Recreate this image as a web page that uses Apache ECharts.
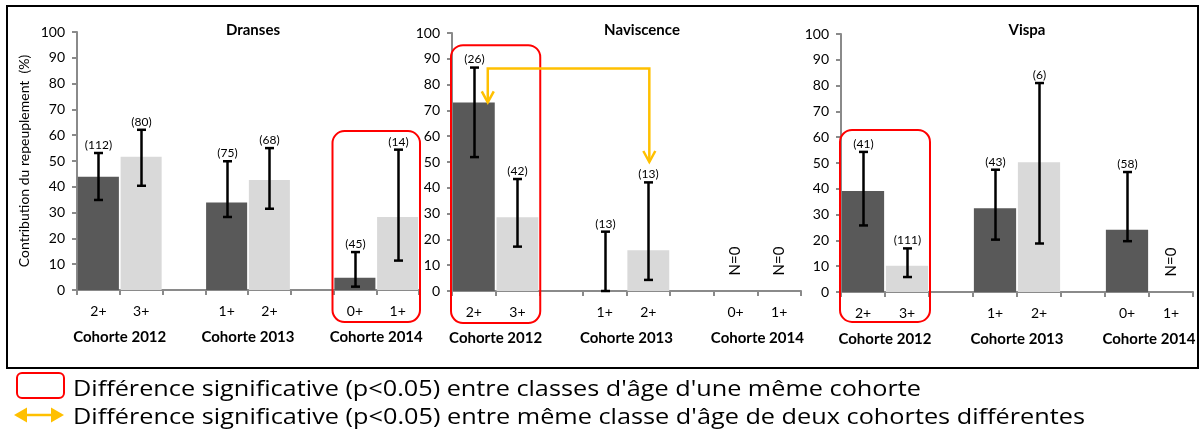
<!DOCTYPE html>
<html><head><meta charset="utf-8">
<script src="https://cdn.jsdelivr.net/npm/echarts@6/dist/echarts.min.js"></script>
<style>html,body{margin:0;padding:0;background:#fff}#c{width:1200px;height:432px}</style>
</head><body><div id="c"></div>
<script>
// ---------- data ----------
const panelTitles = ['Dranses', 'Naviscence', 'Vispa'];
const ageClasses = ['2+', '3+', '', '1+', '2+', '', '0+', '1+'];
const cohortLabels = ['Cohorte 2012', 'Cohorte 2013', 'Cohorte 2014'];
const cohortAt = [1, 4, 7];            // category boundary under which each cohort name sits
const yAxisName = 'Contribution du repeuplement  (%)';

const dransesValues = [43.9, 51.6, null, 33.9, 42.6, null, 4.7, 28.3];
const dransesLow    = [34.9, 40.4, null, 28.3, 31.5, null, 1.3, 11.4];
const dransesHigh   = [53.1, 62.1, null, 49.9, 55.0, null, 14.7, 54.4];
const dransesN      = [112, 80, null, 75, 68, null, 45, 14];

const naviscenceValues = [73.1, 28.6, null, 0, 15.8, null, null, null];
const naviscenceLow    = [51.9, 17.2, null, 0, 4.3, null, null, null];
const naviscenceHigh   = [86.6, 43.4, null, 23.0, 42.1, null, null, null];
const naviscenceN      = [26, 42, null, 13, 13, null, 0, 0];

const vispaValues = [39.1, 10.2, null, 32.5, 50.3, null, 24.1, null];
const vispaLow    = [25.8, 5.8, null, 20.3, 18.8, null, 19.7, null];
const vispaHigh   = [54.3, 16.9, null, 47.4, 81.0, null, 46.5, null];
const vispaN      = [41, 111, null, 43, 6, null, 58, 0];

// significant difference within a cohort: [first category, last category] per panel
const withinCohortDiff = [[[6, 7]], [[0, 1]], [[0, 1]]];
// significant difference between cohorts (Naviscence): [from category, to category]
const betweenCohortDiff = [[0, 4]];

const legendTexts = [
  "Différence significative (p<0.05) entre classes d'âge d'une même cohorte",
  "Différence significative (p<0.05) entre même classe d'âge de deux cohortes différentes"
];

// ---------- layout / style ----------
const FONT = 'Lato, "Open Sans", sans-serif';
const DARK = '#595959', LIGHT = '#d9d9d9', AXIS = '#8a8a8a';
const grids = [
  {left: 77, top: 32, width: 342, height: 258},
  {left: 452, top: 33, width: 349, height: 258},
  {left: 841, top: 34, width: 352, height: 258}
];
const titleCenters = [248, 637, 1022];
const boxRanges = [[-12.4, 61.6], [-12.4, 95.3], [-11.6, 62.8]];

const panels = [
  {v: dransesValues, lo: dransesLow, hi: dransesHigh, n: dransesN},
  {v: naviscenceValues, lo: naviscenceLow, hi: naviscenceHigh, n: naviscenceN},
  {v: vispaValues, lo: vispaLow, hi: vispaHigh, n: vispaN}
];

function errRender(params, api) {
  const i = api.value(0), lo = api.value(1), hi = api.value(2), n = api.value(3);
  const children = [];
  if (n === 0) {
    const p = api.coord([i, 11.6]);
    children.push({type: 'text', x: p[0], y: p[1], rotation: Math.PI / 2,
      style: {text: 'N=0', x: 0, y: 0, align: 'center', verticalAlign: 'middle',
        textAlign: 'center', textVerticalAlign: 'middle', font: '15px ' + FONT, fill: '#000'}});
    return {type: 'group', children};
  }
  const pl = api.coord([i, lo]), ph = api.coord([i, hi]);
  const x = Math.round(ph[0]) + 0.5;
  const st = {stroke: '#000', lineWidth: 2.5};
  children.push({type: 'line', shape: {x1: x, y1: pl[1], x2: x, y2: ph[1]}, style: st});
  children.push({type: 'line', shape: {x1: x - 4.5, y1: ph[1], x2: x + 4.5, y2: ph[1]}, style: st});
  children.push({type: 'line', shape: {x1: x - 4.5, y1: pl[1], x2: x + 4.5, y2: pl[1]}, style: st});
  children.push({type: 'text', style: {text: '(' + n + ')', x: x, y: ph[1] - 2,
    align: 'center', verticalAlign: 'bottom', textAlign: 'center', textVerticalAlign: 'bottom',
    font: '12px ' + FONT, fill: '#000'}});
  return {type: 'group', children};
}

function boxRender(params, api) {
  const a = api.value(0), b = api.value(1), y0 = api.value(2), y1 = api.value(3);
  const band = api.size([1, 0])[0];
  const xa = api.coord([a, 0])[0] - band / 2 - 1;
  const xb = api.coord([b, 0])[0] + band / 2 + 1;
  const ya = api.coord([a, y1])[1], yb = api.coord([a, y0])[1];
  return {type: 'rect', shape: {x: xa, y: ya, width: xb - xa, height: yb - ya, r: 12},
    style: {stroke: '#ff0000', fill: 'none', lineWidth: 2}};
}

function arrowRender(params, api) {
  const a = api.value(0), b = api.value(1), va = api.value(2), vb = api.value(3), lvl = api.value(4);
  const band = api.size([1, 0])[0];
  const xa = api.coord([a, 0])[0] + band * 0.32;
  const xb = api.coord([b, 0])[0] + 1;
  const yl = api.coord([a, lvl])[1];
  const ya = api.coord([a, va])[1], yb = api.coord([b, vb])[1];
  const st = {stroke: '#ffc000', lineWidth: 2.5, fill: 'none'};
  return {type: 'group', children: [
    {type: 'polyline', shape: {points: [[xa, ya], [xa, yl], [xb, yl], [xb, yb]]}, style: st},
    {type: 'polyline', shape: {points: [[xa - 6, ya - 11], [xa, ya], [xa + 6, ya - 11]]}, style: st},
    {type: 'polyline', shape: {points: [[xb - 6, yb - 11], [xb, yb], [xb + 6, yb - 11]]}, style: st}
  ]};
}

const xAxes = [], yAxes = [], series = [];
grids.forEach((g, k) => {
  xAxes.push({type: 'category', gridIndex: k, data: ageClasses, boundaryGap: true,
    axisLine: {lineStyle: {color: AXIS, width: 2}},
    axisTick: {show: true, interval: 0, length: 5, lineStyle: {color: AXIS, width: 2}},
    axisLabel: {interval: 0, margin: 14, color: '#000', fontSize: 14, fontFamily: FONT},
    splitLine: {show: false}});
  yAxes.push({type: 'value', gridIndex: k, min: 0, max: 100, interval: 10,
    name: k === 0 ? yAxisName : '', nameLocation: 'middle', nameGap: 46, nameRotate: 90,
    nameTextStyle: {color: '#000', fontSize: 14, fontFamily: FONT},
    axisLine: {show: true, lineStyle: {color: AXIS, width: 2}},
    axisTick: {show: true, length: 5, lineStyle: {color: AXIS, width: 2}},
    axisLabel: {margin: 12, color: '#000', fontSize: 14, fontFamily: FONT},
    splitLine: {show: false}});
  const p = panels[k];
  series.push({type: 'bar', xAxisIndex: k, yAxisIndex: k, barWidth: '96%', barGap: '0%',
    data: p.v.map((v, i) => v === null ? null : {value: v, itemStyle: {color: i % 3 === 0 ? DARK : LIGHT}}),
    silent: true, animation: false});
  const eb = [];
  p.n.forEach((n, i) => {
    if (n === null) return;
    if (n === 0) eb.push([i, 0, 0, 0]);
    else eb.push([i, p.lo[i], p.hi[i], n]);
  });
  series.push({type: 'custom', xAxisIndex: k, yAxisIndex: k, renderItem: errRender,
    data: eb, clip: false, z: 5, silent: true, animation: false, encode: {x: 0, y: 1}});
  series.push({type: 'custom', xAxisIndex: k, yAxisIndex: k, renderItem: boxRender,
    data: withinCohortDiff[k].map(d => [d[0], d[1], boxRanges[k][0], boxRanges[k][1]]),
    clip: false, z: 8, silent: true, animation: false, encode: {x: 0, y: 2}});
  if (k === 1) {
    series.push({type: 'custom', xAxisIndex: k, yAxisIndex: k, renderItem: arrowRender,
      data: betweenCohortDiff.map(d => [d[0], d[1], p.v[d[0]], 50, 86.2]),
      clip: false, z: 9, silent: true, animation: false, encode: {x: 0, y: 2}});
  }
});
grids.forEach((g, k) => {
  xAxes.push({type: 'value', gridIndex: k, min: 0, max: 8, interval: 1, position: 'bottom',
    axisLine: {show: false}, axisTick: {show: false}, splitLine: {show: false},
    axisLabel: {margin: 40, color: '#000', fontSize: 15, fontWeight: 'bold', fontFamily: FONT,
      showMinLabel: true, showMaxLabel: true,
      formatter: v => { const j = cohortAt.indexOf(v); return j >= 0 ? cohortLabels[j] : ''; }}});
});

// legend text widths
const cv = document.createElement('canvas').getContext('2d');
const LFONT = '21px "Open Sans", sans-serif';
cv.font = LFONT;
const legendWidths = [848, 1012];
const scales = legendTexts.map((t, i) => legendWidths[i] / cv.measureText(t).width);

const option = {
  backgroundColor: '#fff',
  animation: false,
  title: panelTitles.map((t, k) => ({text: t, left: titleCenters[k], top: 18, textAlign: 'center',
    textStyle: {fontSize: 15, fontWeight: 'bold', color: '#000', fontFamily: FONT}})),
  grid: grids.map(g => Object.assign({containLabel: false, outerBoundsMode: 'none'}, g)),
  xAxis: xAxes,
  yAxis: yAxes,
  series: series,
  graphic: [
    {type: 'rect', shape: {x: 7, y: 6, width: 1191, height: 362}, style: {stroke: '#000', fill: 'none', lineWidth: 2}, z: 100},
    {type: 'rect', shape: {x: 17, y: 373, width: 47, height: 25, r: 5}, style: {stroke: '#ff0000', fill: 'none', lineWidth: 2}},
    {type: 'text', x: 73, y: 390, scaleX: scales[0], style: {text: legendTexts[0], x: 0, y: 0, font: LFONT, fill: '#000', verticalAlign: 'middle', textVerticalAlign: 'middle'}},
    {type: 'line', shape: {x1: 24, y1: 415, x2: 54, y2: 415}, style: {stroke: '#ffc000', lineWidth: 2.5}},
    {type: 'polygon', shape: {points: [[14, 415], [27, 407.5], [27, 422.5]]}, style: {fill: '#ffc000'}},
    {type: 'polygon', shape: {points: [[64, 415], [51, 407.5], [51, 422.5]]}, style: {fill: '#ffc000'}},
    {type: 'text', x: 73, y: 418, scaleX: scales[1], style: {text: legendTexts[1], x: 0, y: 0, font: LFONT, fill: '#000', verticalAlign: 'middle', textVerticalAlign: 'middle'}}
  ]
};
const chart = echarts.init(document.getElementById('c'), null, {renderer: 'canvas'});
chart.setOption(option);
</script>
</body></html>
